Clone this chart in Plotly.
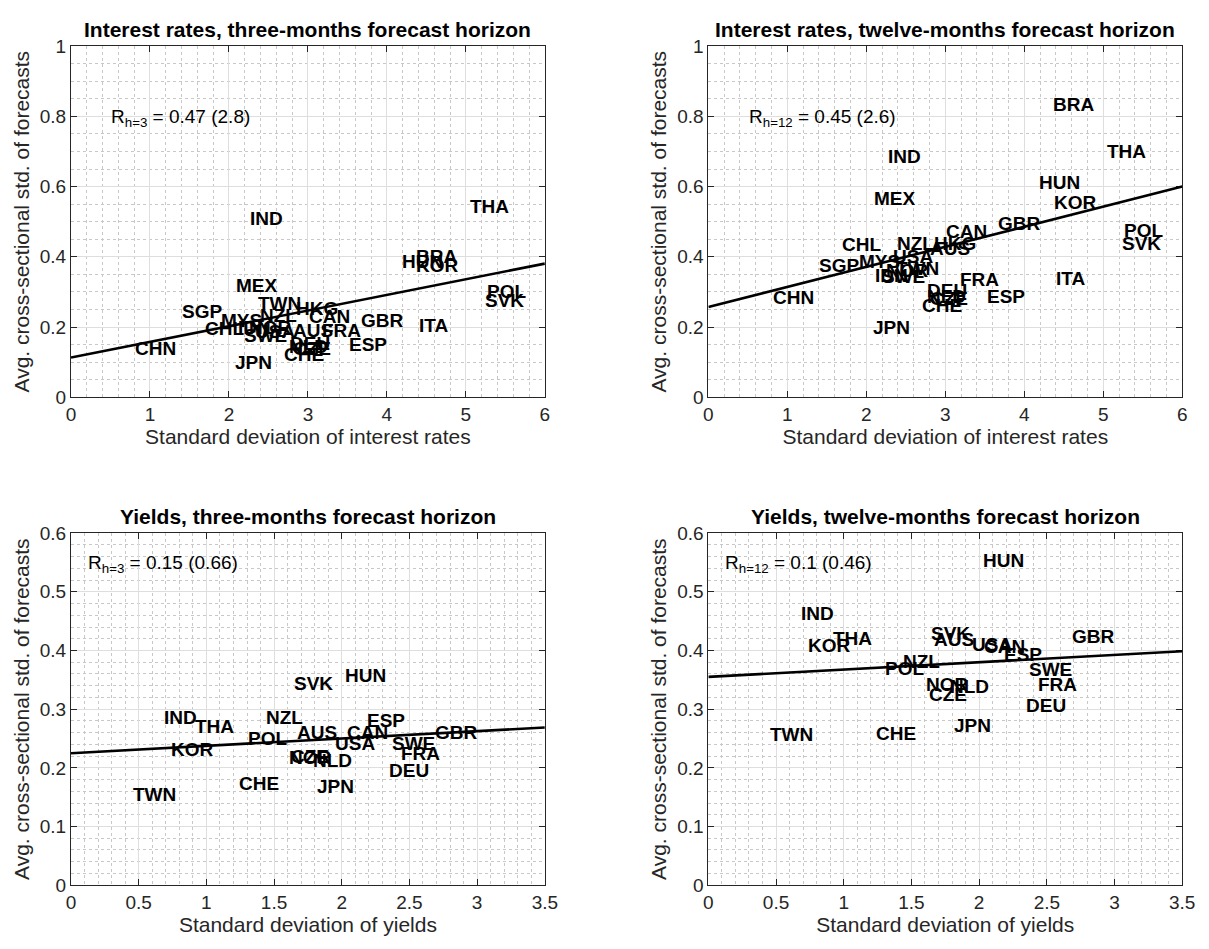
import plotly.graph_objects as go

# ---------------- data ----------------
ir_countries = ["CHN", "SGP", "CHL", "MYS", "IDN", "SWE", "NOR", "JPN", "MEX", "IND",
                "TWN", "NZL", "USA", "AUS", "HKG", "CAN", "FRA", "DEU", "NLD", "CZE",
                "CHE", "ESP", "GBR", "ITA", "HUN", "BRA", "KOR", "THA", "POL", "SVK"]
ir_std = [0.80, 1.39, 1.68, 1.89, 2.10, 2.18, 2.24, 2.07, 2.08, 2.26,
          2.36, 2.38, 2.32, 2.80, 2.84, 3.00, 3.17, 2.76, 2.75, 2.80,
          2.69, 3.51, 3.66, 4.39, 4.18, 4.35, 4.36, 5.04, 5.25, 5.23]
ir_disp_h3 = [0.139, 0.244, 0.195, 0.220, 0.200, 0.177, 0.200, 0.100, 0.318, 0.509,
              0.267, 0.232, 0.188, 0.190, 0.253, 0.230, 0.190, 0.152, 0.145, 0.140,
              0.122, 0.149, 0.220, 0.204, 0.388, 0.400, 0.376, 0.543, 0.300, 0.275]
ir_disp_h12 = [0.284, 0.374, 0.434, 0.388, 0.346, 0.343, 0.360, 0.199, 0.566, 0.686,
               0.367, 0.439, 0.402, 0.423, 0.439, 0.473, 0.335, 0.304, 0.286, 0.281,
               0.262, 0.287, 0.495, 0.337, 0.613, 0.833, 0.555, 0.699, 0.476, 0.439]

yl_countries = ["TWN", "IND", "KOR", "THA", "CHE", "POL", "NZL", "NOR", "CZE", "SVK",
                "AUS", "NLD", "JPN", "USA", "HUN", "CAN", "ESP", "DEU", "SWE", "FRA", "GBR"]
yl_std = [0.45, 0.68, 0.73, 0.91, 1.23, 1.30, 1.43, 1.60, 1.62, 1.64,
          1.66, 1.78, 1.81, 1.94, 2.02, 2.03, 2.18, 2.34, 2.36, 2.43, 2.68]
yl_disp_h3 = [0.155, 0.285, 0.231, 0.271, 0.174, 0.250, 0.285, 0.218, 0.220, 0.343,
              0.261, 0.213, 0.168, 0.241, 0.357, 0.260, 0.281, 0.196, 0.242, 0.224, 0.261]
yl_disp_h12 = [0.257, 0.463, 0.408, 0.421, 0.259, 0.369, 0.381, 0.342, 0.325, 0.429,
               0.418, 0.338, 0.273, 0.411, 0.553, 0.407, 0.394, 0.306, 0.367, 0.342, 0.424]

fit_intercept = [0.113, 0.257, 0.225, 0.355]
fit_slope = [0.0446, 0.0572, 0.0125, 0.0125]

panel_titles = ["Interest rates, three-months forecast horizon",
                "Interest rates, twelve-months forecast horizon",
                "Yields, three-months forecast horizon",
                "Yields, twelve-months forecast horizon"]
r_labels = ["R<sub>h=3</sub> = 0.47 (2.8)", "R<sub>h=12</sub> = 0.45 (2.6)",
            "R<sub>h=3</sub> = 0.15 (0.66)", "R<sub>h=12</sub> = 0.1 (0.46)"]
x_titles = ["Standard deviation of interest rates", "Standard deviation of interest rates",
            "Standard deviation of yields", "Standard deviation of yields"]
y_title = "Avg. cross-sectional std. of forecasts"

# ---------------- layout geometry ----------------
W, H = 1209, 949
FONT = "Liberation Sans, Arial, Helvetica, sans-serif"
DARK = "#262626"
x_domains = [[67 / W, 548 / W], [714 / W, 1195 / W]]
y_domains = [[1 - 396 / H, 1 - 37 / H], [1 - 895 / H, 1 - 535 / H]]

panels = [
    dict(countries=ir_countries, x=ir_std, y=ir_disp_h3, xr=[0, 6], yr=[0, 1],
         xd=1, xm=0.2, yd=0.2, ym=0.05, rx=0.5, ry=0.795),
    dict(countries=ir_countries, x=ir_std, y=ir_disp_h12, xr=[0, 6], yr=[0, 1],
         xd=1, xm=0.2, yd=0.2, ym=0.05, rx=0.5, ry=0.795),
    dict(countries=yl_countries, x=yl_std, y=yl_disp_h3, xr=[0, 3.5], yr=[0, 0.6],
         xd=0.5, xm=0.1, yd=0.1, ym=0.02, rx=0.115, ry=0.548),
    dict(countries=yl_countries, x=yl_std, y=yl_disp_h12, xr=[0, 3.5], yr=[0, 0.6],
         xd=0.5, xm=0.1, yd=0.1, ym=0.02, rx=0.115, ry=0.548),
]

fig = go.Figure()
annotations = []
layout_axes = {}

for i, p in enumerate(panels):
    k = "" if i == 0 else str(i + 1)
    xa, ya = "x" + k, "y" + k
    col, row = i % 2, i // 2
    xdom, ydom = x_domains[col], y_domains[row]

    # regression line
    xs = [p["xr"][0], p["xr"][1]]
    ys = [fit_intercept[i] + fit_slope[i] * v for v in xs]
    fig.add_trace(go.Scatter(x=xs, y=ys, mode="lines", xaxis=xa, yaxis=ya,
                             line=dict(color="black", width=2.6),
                             showlegend=False, hoverinfo="skip"))

    # country labels
    for c, xv, yv in zip(p["countries"], p["x"], p["y"]):
        annotations.append(dict(x=xv, y=yv, xref=xa, yref=ya, text=c, showarrow=False,
                                xanchor="left", yanchor="middle", borderpad=0,
                                font=dict(family=FONT, size=19, color="black", weight="bold")))

    # R statistic
    annotations.append(dict(x=p["rx"], y=p["ry"], xref=xa, yref=ya, text=r_labels[i],
                            showarrow=False, xanchor="left", yanchor="middle", borderpad=0,
                            font=dict(family=FONT, size=19, color="black")))

    # panel title
    annotations.append(dict(x=(xdom[0] + xdom[1]) / 2, y=ydom[1], xref="paper", yref="paper",
                            text="<b>" + panel_titles[i] + "</b>", showarrow=False,
                            xanchor="center", yanchor="middle", yshift=17,
                            font=dict(family=FONT, size=21, color="black")))

    common = dict(showgrid=True, gridcolor="rgb(222,222,222)", gridwidth=1,
                  zeroline=False, showline=True, linecolor=DARK, linewidth=1,
                  mirror="ticks", ticks="inside", ticklen=6, tickcolor=DARK, tickwidth=1,
                  tickfont=dict(family=FONT, size=19, color=DARK), layer="below traces")
    layout_axes["xaxis" + k] = dict(
        common, domain=xdom, anchor=ya, range=p["xr"], tick0=0, dtick=p["xd"],
        minor=dict(dtick=p["xm"], tick0=0, showgrid=True, gridcolor="rgb(200,200,200)",
                   griddash="dot", gridwidth=1, ticks=""),
        title=dict(text=x_titles[i], font=dict(family=FONT, size=21, color=DARK), standoff=4))
    layout_axes["yaxis" + k] = dict(
        common, domain=ydom, anchor=xa, range=p["yr"], tick0=0, dtick=p["yd"],
        minor=dict(dtick=p["ym"], tick0=0, showgrid=True, gridcolor="rgb(200,200,200)",
                   griddash="dot", gridwidth=1, ticks=""),
        title=dict(text=y_title, font=dict(family=FONT, size=21, color=DARK), standoff=4))

fig.update_layout(width=W, height=H, margin=dict(l=0, r=0, t=0, b=0),
                  paper_bgcolor="white", plot_bgcolor="white",
                  font=dict(family=FONT, color=DARK),
                  annotations=annotations, showlegend=False, **layout_axes)

fig.write_html("out.html")
